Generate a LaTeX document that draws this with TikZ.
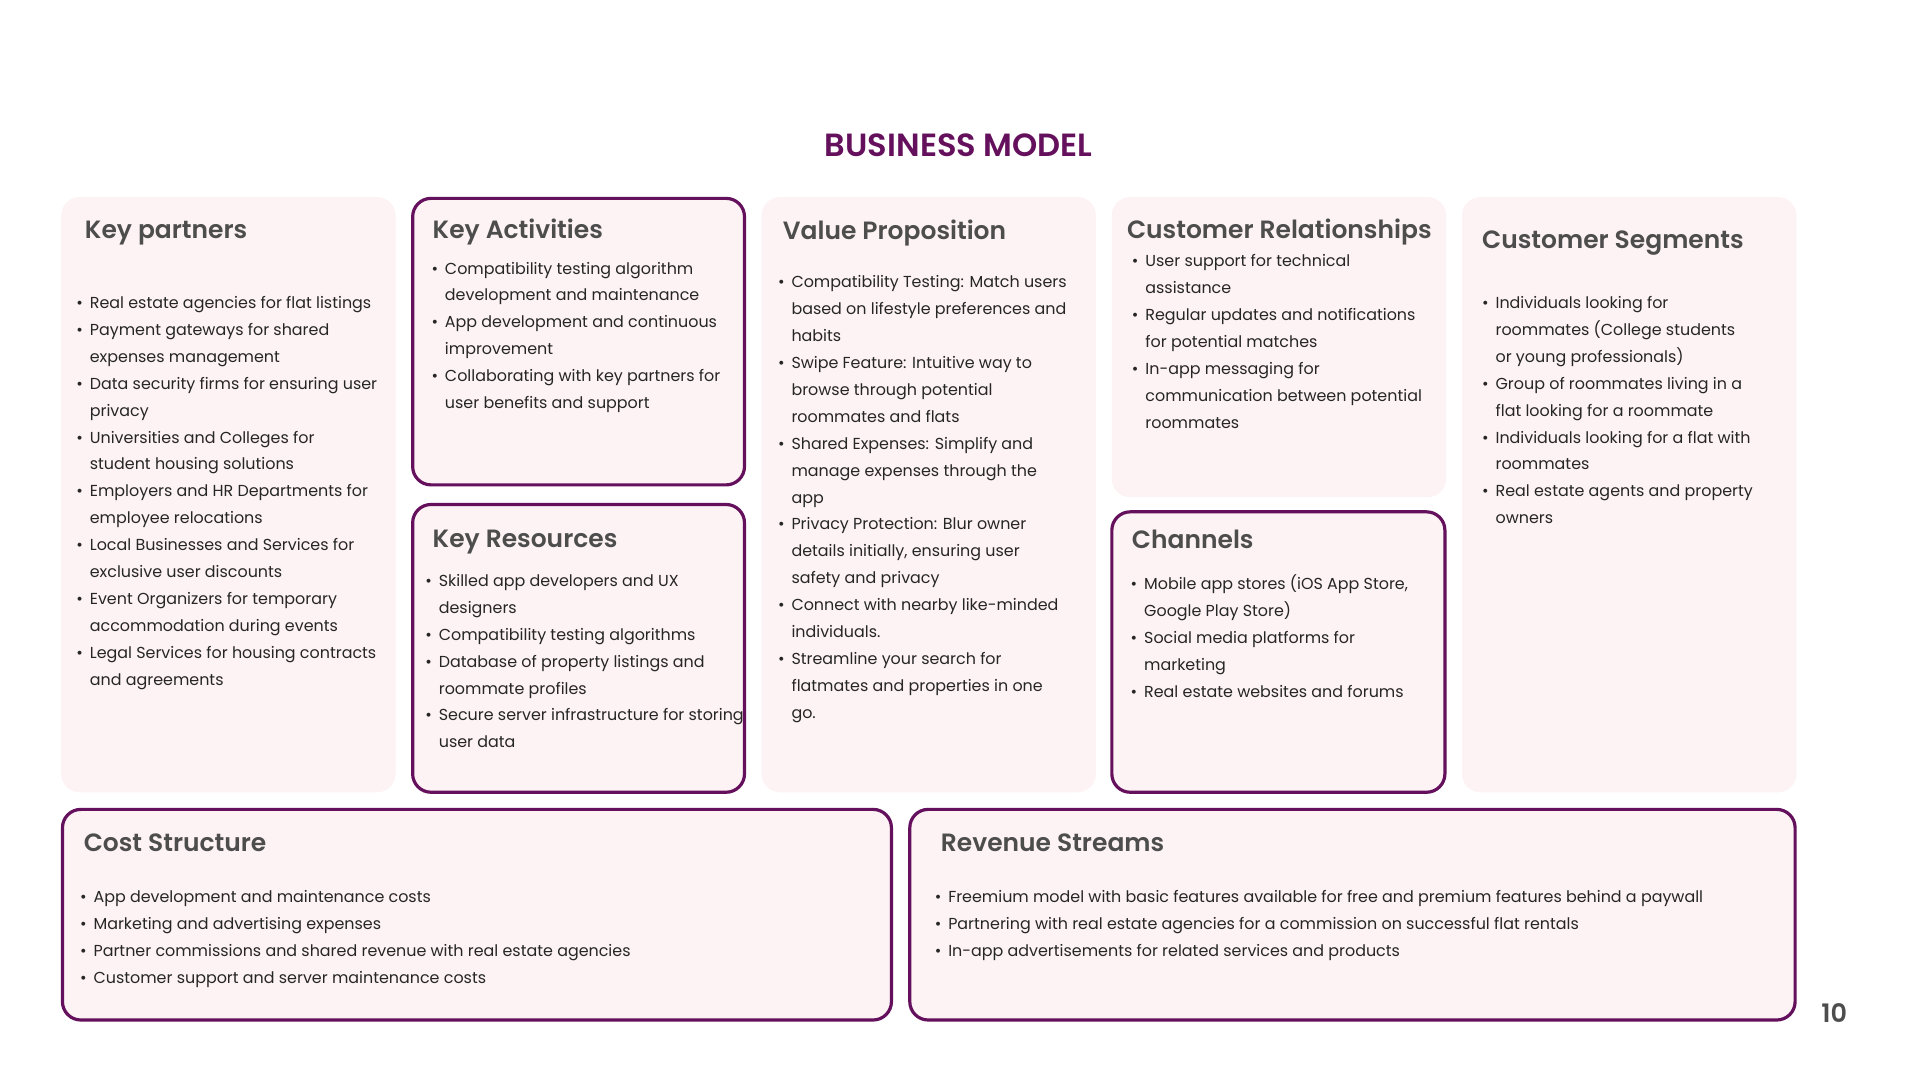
\documentclass[tikz,border=0pt]{standalone}
\usepackage{fontspec}
\setmainfont{Poppins}[BoldFont={* SemiBold}]
\definecolor{bmpurple}{RGB}{100,16,92}
\definecolor{cardfill}{RGB}{253,242,244}
\definecolor{headgray}{RGB}{77,77,77}
\definecolor{bodytext}{RGB}{38,38,38}
\newcommand\itm[1]{\strut\makebox[5.5pt][l]{\textbullet}#1}
\newcommand\cnt[1]{\strut\hspace*{5.5pt}#1}
\begin{document}
\begin{tikzpicture}[x=0.5pt,y=-0.5pt,
  card/.style={fill=cardfill, draw=none, rounded corners=7.5pt},
  cardb/.style={fill=cardfill, draw=bmpurple, line width=1.3pt, rounded corners=7.5pt},
  head/.style={anchor=base west, inner sep=0, text=headgray, font=\fontsize{10.2}{12}\selectfont\bfseries},
  body/.style={anchor=north west, inner sep=0, align=left, text=bodytext, font=\fontsize{6.5}{11}\selectfont},
]
\useasboundingbox (0,0) rectangle (1568,882);
\fill[white] (0,0) rectangle (1568,882);

% title
\node[anchor=base, inner sep=0, text=bmpurple, font=\fontsize{13.1}{15}\selectfont\bfseries] (title) at (783,127.5) {BUSINESS MODEL};

% cards
\path[card]  (50,161)  rectangle (323,647);
\path[cardb] (337,162) rectangle (608,396);
\path[cardb] (337,412) rectangle (608,647);
\path[card]  (622,161) rectangle (895,647);
\path[card]  (908,161) rectangle (1181,406);
\path[cardb] (908,418) rectangle (1180,647);
\path[card]  (1194,161) rectangle (1467,647);
\path[cardb] (51,661)  rectangle (728,833);
\path[cardb] (743,661) rectangle (1466,833);

% headings
\node[head] (hkp) at (69,195) {Key partners};
\node[head] (hka) at (353,195) {Key Activities};
\node[head] (hvp) at (639,196) {Value Proposition};
\node[head] (hcr) at (920,195) {Customer Relationships};
\node[head] (hcs) at (1210,203) {Customer Segments};
\node[head] (hkr) at (353,447) {Key Resources};
\node[head] (hch) at (924,448) {Channels};
\node[head] (hcost) at (68,695) {Cost Structure};
\node[head] (hrev) at (768,695) {Revenue Streams};

% bodies
\node[body] (bkp) at (62,236) {%
\itm{Real estate agencies for flat listings}\\
\itm{Payment gateways for shared}\\
\cnt{expenses management}\\
\itm{Data security firms for ensuring user}\\
\cnt{privacy}\\
\itm{Universities and Colleges for}\\
\cnt{student housing solutions}\\
\itm{Employers and HR Departments for}\\
\cnt{employee relocations}\\
\itm{Local Businesses and Services for}\\
\cnt{exclusive user discounts}\\
\itm{Event Organizers for temporary}\\
\cnt{accommodation during events}\\
\itm{Legal Services for housing contracts}\\
\cnt{and agreements}};

\node[body] (bka) at (352,208) {%
\itm{Compatibility testing algorithm}\\
\cnt{development and maintenance}\\
\itm{App development and continuous}\\
\cnt{improvement}\\
\itm{Collaborating with key partners for}\\
\cnt{user benefits and support}};

\node[body] (bkr) at (347,463) {%
\itm{Skilled app developers and UX}\\
\cnt{designers}\\
\itm{Compatibility testing algorithms}\\
\itm{Database of property listings and}\\
\cnt{roommate profiles}\\
\itm{Secure server infrastructure for storing}\\
\cnt{user data}};

\node[body] (bvp) at (635,219) {%
\itm{Compatibility Testing: Match users}\\
\cnt{based on lifestyle preferences and}\\
\cnt{habits}\\
\itm{Swipe Feature: Intuitive way to}\\
\cnt{browse through potential}\\
\cnt{roommates and flats}\\
\itm{Shared Expenses: Simplify and}\\
\cnt{manage expenses through the}\\
\cnt{app}\\
\itm{Privacy Protection: Blur owner}\\
\cnt{details initially, ensuring user}\\
\cnt{safety and privacy}\\
\itm{Connect with nearby like-minded}\\
\cnt{individuals.}\\
\itm{Streamline your search for}\\
\cnt{flatmates and properties in one}\\
\cnt{go.}};

\node[body] (bcr) at (924,202) {%
\itm{User support for technical}\\
\cnt{assistance}\\
\itm{Regular updates and notifications}\\
\cnt{for potential matches}\\
\itm{In-app messaging for}\\
\cnt{communication between potential}\\
\cnt{roommates}};

\node[body] (bch) at (923,466) {%
\itm{Mobile app stores (iOS App Store,}\\
\cnt{Google Play Store)}\\
\itm{Social media platforms for}\\
\cnt{marketing}\\
\itm{Real estate websites and forums}};

\node[body] (bcs) at (1210,236) {%
\itm{Individuals looking for}\\
\cnt{roommates (College students}\\
\cnt{or young professionals)}\\
\itm{Group of roommates living in a}\\
\cnt{flat looking for a roommate}\\
\itm{Individuals looking for a flat with}\\
\cnt{roommates}\\
\itm{Real estate agents and property}\\
\cnt{owners}};

\node[body] (bcost) at (65,721) {%
\itm{App development and maintenance costs}\\
\itm{Marketing and advertising expenses}\\
\itm{Partner commissions and shared revenue with real estate agencies}\\
\itm{Customer support and server maintenance costs}};

\node[body] (brev) at (763,721) {%
\itm{Freemium model with basic features available for free and premium features behind a paywall}\\
\itm{Partnering with real estate agencies for a commission on successful flat rentals}\\
\itm{In-app advertisements for related services and products}};

% page number
\node[anchor=base, inner sep=0, text=headgray, font=\fontsize{10.4}{12}\selectfont\bfseries] (pnum) at (1498,835) {10};
\end{tikzpicture}
\end{document}
